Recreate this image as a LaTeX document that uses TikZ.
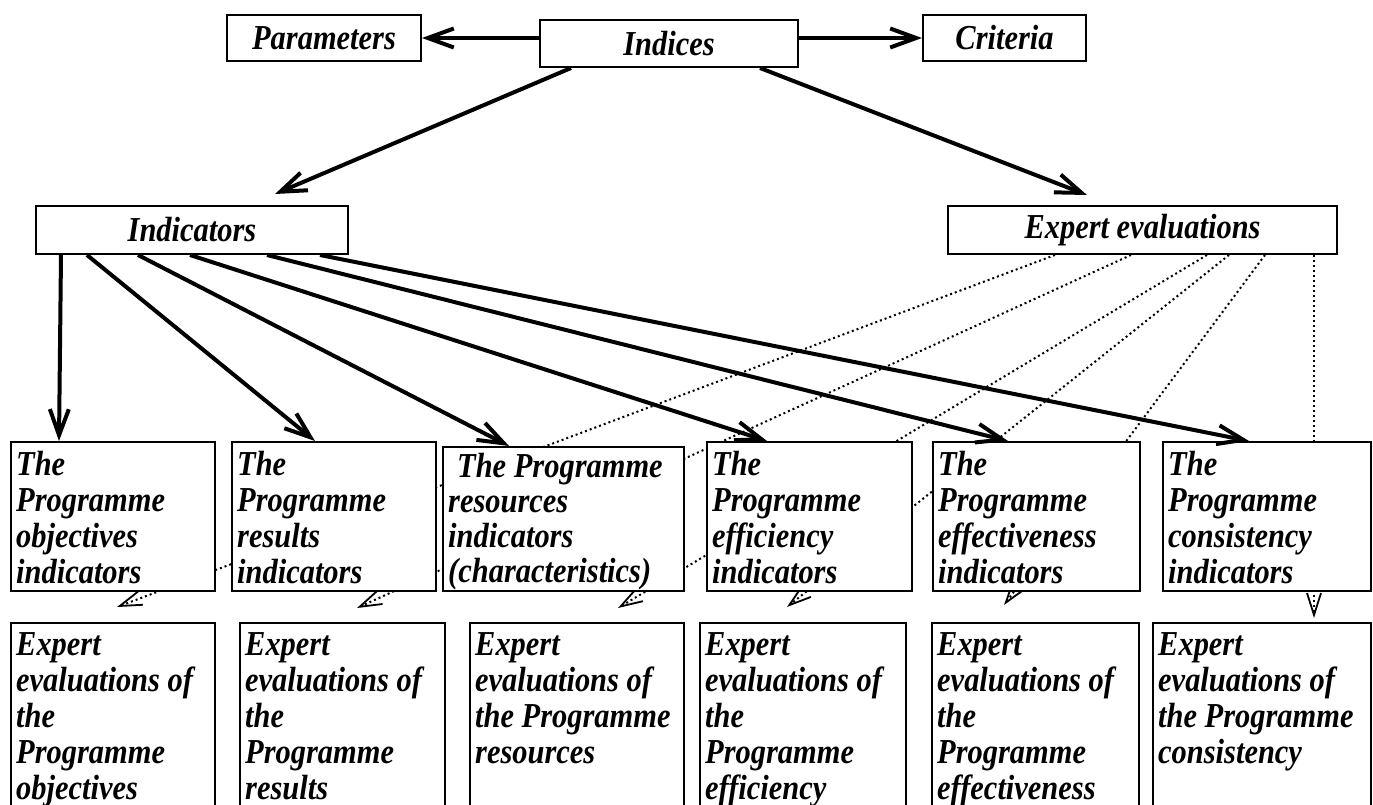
\documentclass[tikz,border=0pt]{standalone}
\usepackage{fontspec}
\newfontfamily\bif[FakeStretch=0.87]{Liberation Serif}
\usetikzlibrary{arrows.meta,calc}
\pgfdeclarelayer{bg}
\pgfsetlayers{bg,main}
\begin{document}
\begin{tikzpicture}[x=1pt,y=-1pt,
  box/.style={draw, line width=2pt, fill=white, rectangle, inner sep=0pt, anchor=north west},
  txt/.style={font=\bif\bfseries\itshape\fontsize{35}{36}\selectfont},
  lbl/.style={txt, align=left, anchor=north west, inner sep=0pt, xshift=6pt, yshift=-10pt},
  arr/.style={line width=4pt, -{Straight Barb[length=26pt,width=19pt]}},
  dotarr/.style={line width=2pt, dash pattern=on 2pt off 3pt,
    -{Straight Barb[length=22pt,width=14pt,line width=1.8pt]}}]
\useasboundingbox (0,0) rectangle (1373,805);
\clip (0,0) rectangle (1373,805);

% top row
\node[box, txt, minimum width=194pt, minimum height=46pt] (par) at (226,14) {Parameters};
\node[box, txt, minimum width=258pt, minimum height=47pt] (ind) at (539,19) {Indices};
\node[box, txt, minimum width=163pt, minimum height=46pt] (cri) at (922,14) {Criteria};

% second row
\node[box, txt, minimum width=312pt, minimum height=48pt] (indr) at (35,205) {Indicators};
\node[box, txt, minimum width=389pt, minimum height=48pt] (ee) at (947,205) {Expert evaluations};

% indicator boxes
\node[box, minimum width=204pt, minimum height=149pt,
  label={[lbl]north west:{The\\Programme\\objectives\\indicators}}] (r1) at (10,441) {};
\node[box, minimum width=204pt, minimum height=149pt,
  label={[lbl]north west:{The\\Programme\\results\\indicators}}] (r2) at (231,441) {};
\node[box, minimum width=241pt, minimum height=144pt,
  label={[lbl, yshift=3pt, align=left, font=\bif\bfseries\itshape\fontsize{35}{35}\selectfont]north west:{\hspace*{9pt}The Programme\\resources\\indicators\\(characteristics)}}] (r3) at (442,446) {};
\node[box, minimum width=205pt, minimum height=149pt,
  label={[lbl]north west:{The\\Programme\\efficiency\\indicators}}] (r4) at (706,441) {};
\node[box, minimum width=207pt, minimum height=149pt,
  label={[lbl]north west:{The\\Programme\\effectiveness\\indicators}}] (r5) at (932,441) {};
\node[box, minimum width=208pt, minimum height=149pt,
  label={[lbl]north west:{The\\Programme\\consistency\\indicators}}] (r6) at (1162,441) {};

% expert evaluation boxes
\node[box, minimum width=204pt, minimum height=220pt,
  label={[lbl]north west:{Expert\\evaluations of\\the\\Programme\\objectives}}] (e1) at (10,622) {};
\node[box, minimum width=205pt, minimum height=220pt,
  label={[lbl]north west:{Expert\\evaluations of\\the\\Programme\\results}}] (e2) at (239,622) {};
\node[box, minimum width=214pt, minimum height=220pt,
  label={[lbl]north west:{Expert\\evaluations of\\the Programme\\resources}}] (e3) at (469,622) {};
\node[box, minimum width=206pt, minimum height=220pt,
  label={[lbl]north west:{Expert\\evaluations of\\the\\Programme\\efficiency}}] (e4) at (699,622) {};
\node[box, minimum width=207pt, minimum height=220pt,
  label={[lbl]north west:{Expert\\evaluations of\\the\\Programme\\effectiveness}}] (e5) at (931,622) {};
\node[box, minimum width=218pt, minimum height=220pt,
  label={[lbl]north west:{Expert\\evaluations of\\the Programme\\consistency}}] (e6) at (1152,622) {};

% solid arrows
\draw[arr] (ind.west |- par.east) -- (par.east);
\draw[arr] (ind.east |- cri.west) -- (cri.west);
\draw[arr] ([xshift=32pt]ind.south west) -- ([xshift=-74pt,yshift=11pt]indr.north east);
\draw[arr] ([xshift=221pt]ind.south west) -- ([xshift=140pt,yshift=10pt]ee.north west);

\draw[arr] ([xshift=26pt]indr.south west) -- ([xshift=49pt]r1.north west);
\draw[arr] ([xshift=52pt]indr.south west) -- ([xshift=84pt]r2.north west);
\draw[arr] ([xshift=103pt]indr.south west) -- ([xshift=67pt]r3.north west);
\draw[arr] ([xshift=155pt]indr.south west) -- ([xshift=61pt]r4.north west);
\draw[arr] ([xshift=232pt]indr.south west) -- ([xshift=76pt]r5.north west);
\draw[arr] ([xshift=285pt]indr.south west) -- ([xshift=87pt]r6.north west);

% dotted arrows behind the boxes
\begin{pgfonlayer}{bg}
\draw[dotarr] ([xshift=108pt]ee.south west) -- ([xshift=107pt,yshift=15pt]e1.north west);
\draw[dotarr] ([xshift=184pt]ee.south west) -- ([xshift=118pt,yshift=14pt]e2.north west);
\draw[dotarr] ([xshift=260pt]ee.south west) -- ([xshift=149pt,yshift=14pt]e3.north west);
\draw[dotarr] ([xshift=282pt]ee.south west) -- ([xshift=88pt,yshift=15pt]e4.north west);
\draw[dotarr] ([xshift=318pt]ee.south west) -- ([xshift=73pt,yshift=17pt]e5.north west);
\draw[dotarr] ([xshift=367pt]ee.south west) -- ([xshift=162pt,yshift=4pt]e6.north west);
\end{pgfonlayer}
\end{tikzpicture}
\end{document}
